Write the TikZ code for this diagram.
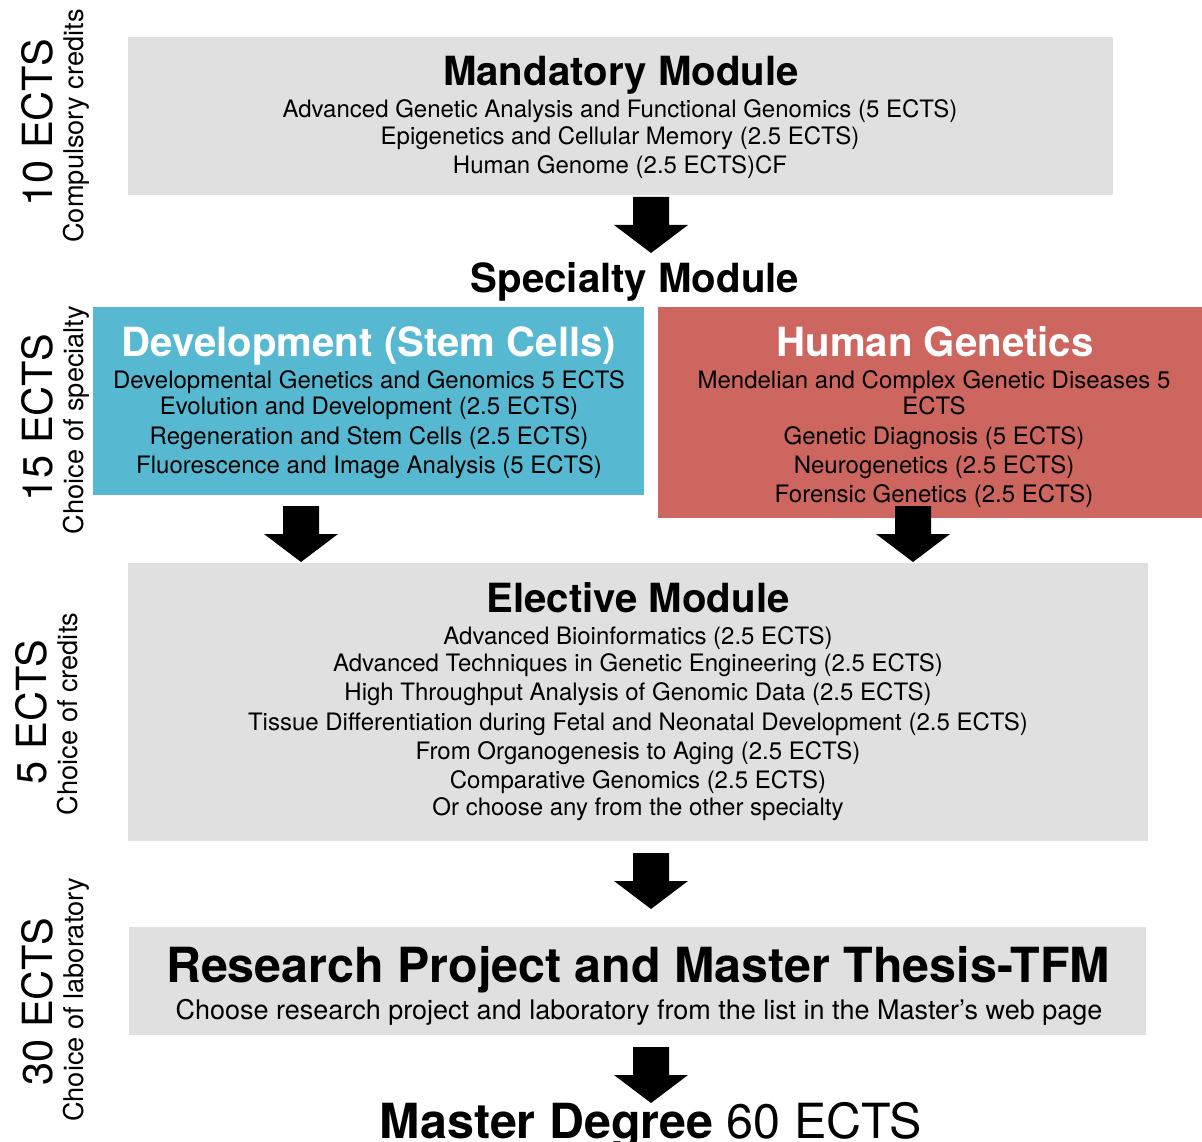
\documentclass[tikz,border=0pt]{standalone}
\usepackage{fontspec}
\setmainfont{TeX Gyre Heros}
\definecolor{boxgray}{HTML}{E0E0E0}
\definecolor{devblue}{HTML}{56B9D1}
\definecolor{hgred}{HTML}{CC665F}
\newcommand\bodyfont{\fontsize{24}{28}\selectfont}
\newcommand\subfontx{\fontsize{27}{32}\selectfont}
\newcommand\titlefont{\fontsize{40.2}{48}\selectfont\bfseries}
\newcommand\hugefontx{\fontsize{48.4}{56}\selectfont}
\newcommand\sidebig{\fontsize{41.5}{48}\selectfont}
\newcommand\sidesmall{\fontsize{27.2}{32}\selectfont}
\tikzset{
  modbox/.style={fill=boxgray, draw=none, inner sep=0pt, anchor=north west},
  txt/.style={anchor=base, inner sep=0pt, font=\bodyfont},
  ttl/.style={anchor=base, inner sep=0pt, font=\titlefont},
  sidebiglab/.style={rotate=90, inner sep=0pt, font=\sidebig},
  sidesmalllab/.style={rotate=90, inner sep=0pt, font=\sidesmall},
  barrow/.pic={\fill[black] (-18,0) -- (18,0) -- (18,28) -- (37,28) -- (0,56) -- (-37,28) -- (-18,28) -- cycle;}
}
\begin{document}
\begin{tikzpicture}[x=1pt,y=-1pt]
\useasboundingbox (0,0) rectangle (1202,1142);

% boxes
\node[modbox, minimum width=985, minimum height=158] (mand) at (128,37) {};
\node[modbox, fill=devblue, minimum width=551, minimum height=188] (dev) at (93,307) {};
\node[modbox, fill=hgred, minimum width=544, minimum height=211] (hg) at (658,307) {};
\node[modbox, minimum width=1020, minimum height=278] (elec) at (128,563) {};
\node[modbox, minimum width=1017, minimum height=108] (res) at (129,927) {};

% mandatory
\node[ttl] (mandt) at (621,86) {Mandatory Module};
\node[txt] (m1) at (620,118) {Advanced Genetic Analysis and Functional Genomics (5 ECTS)};
\node[txt] (m2) at (620,145) {Epigenetics and Cellular Memory (2.5 ECTS)};
\node[txt] (m3) at (620,174) {Human Genome (2.5 ECTS)CF};

% specialty
\node[ttl] (spec) at (635,292) {Specialty Module};

% development
\node[ttl, text=white] (devt) at (369,356) {Development (Stem Cells)};
\node[txt] (d1) at (369,388) {Developmental Genetics and Genomics 5 ECTS};
\node[txt] (d2) at (369,414) {Evolution and Development (2.5 ECTS)};
\node[txt] (d3) at (369,444) {Regeneration and Stem Cells (2.5 ECTS)};
\node[txt] (d4) at (369,473) {Fluorescence and Image Analysis (5 ECTS)};

% human genetics
\node[ttl, text=white] (hgt) at (935,356) {Human Genetics};
\node[txt] (h1) at (934,388) {Mendelian and Complex Genetic Diseases 5};
\node[txt] (h2) at (934,414) {ECTS};
\node[txt] (h3) at (934,444) {Genetic Diagnosis (5 ECTS)};
\node[txt] (h4) at (934,473) {Neurogenetics (2.5 ECTS)};
\node[txt] (h5) at (934,502) {Forensic Genetics (2.5 ECTS)};

% elective
\node[ttl] (elect) at (638,612) {Elective Module};
\node[txt] (e1) at (638,644) {Advanced Bioinformatics (2.5 ECTS)};
\node[txt] (e2) at (638,671) {Advanced Techniques in Genetic Engineering (2.5 ECTS)};
\node[txt] (e3) at (638,700) {High Throughput Analysis of Genomic Data (2.5 ECTS)};
\node[txt] (e4) at (638,730) {Tissue Differentiation during Fetal and Neonatal Development (2.5 ECTS)};
\node[txt] (e5) at (638,759) {From Organogenesis to Aging (2.5 ECTS)};
\node[txt] (e6) at (638,788) {Comparative Genomics (2.5 ECTS)};
\node[txt] (e7) at (638,815) {Or choose any from the other specialty};

% research
\node[anchor=base, inner sep=0pt, font=\hugefontx\bfseries] (rest) at (638,982) {Research Project and Master Thesis-TFM};
\node[anchor=base, inner sep=0pt, font=\subfontx] (r1) at (639,1019) {Choose research project and laboratory from the list in the Master’s web page};

% master degree
\node[anchor=base, inner sep=0pt, font=\hugefontx] (master) at (651,1138) {\textbf{Master Degree} 60 ECTS};

% side labels
\node[sidebiglab] (l10) at (37,123) {10 ECTS};
\node[sidesmalllab] (l10s) at (76,126) {Compulsory credits};
\node[sidebiglab] (l15) at (37,418) {15 ECTS};
\node[sidesmalllab] (l15s) at (76,420) {Choice of specialty};
\node[sidebiglab] (l5) at (31,712) {5 ECTS};
\node[sidesmalllab] (l5s) at (68,714) {Choice of credits};
\node[sidebiglab] (l30) at (37,1002) {30 ECTS};
\node[sidesmalllab] (l30s) at (76,1000) {Choice of laboratory};

% block arrows
\coordinate (a1) at (651,197);
\coordinate (a2) at (301,506);
\coordinate (a3) at (913,506);
\coordinate (a4) at (651,853);
\coordinate (a5) at (651,1047);
\pic at (a1) {barrow};
\pic at (a2) {barrow};
\pic at (a3) {barrow};
\pic at (a4) {barrow};
\pic at (a5) {barrow};
\end{tikzpicture}
\end{document}
